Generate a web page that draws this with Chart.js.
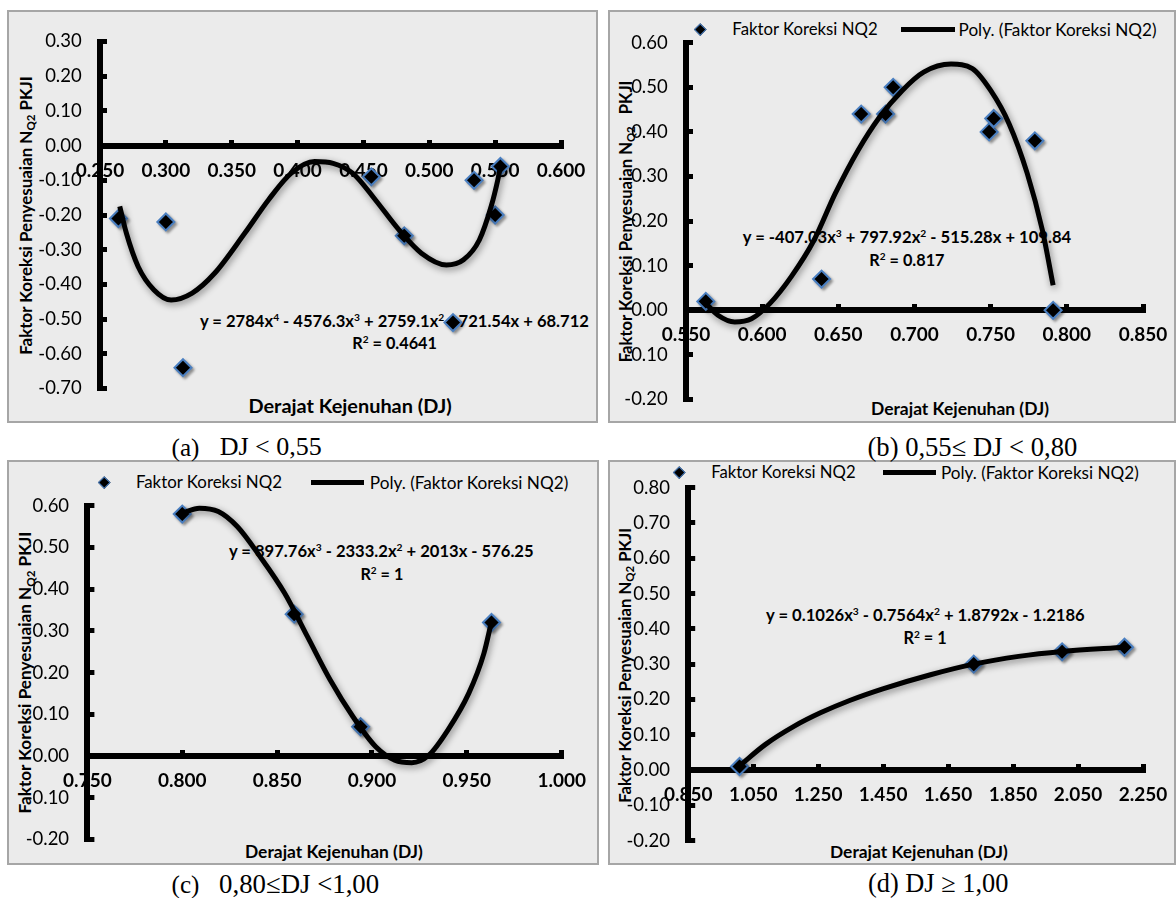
<!DOCTYPE html>
<html><head><meta charset="utf-8">
<script src="https://cdn.jsdelivr.net/npm/chart.js@4.4.1/dist/chart.umd.min.js"></script>
<style>
html,body{margin:0;padding:0;background:#fff;overflow:hidden}
#wrap{position:relative;width:1176px;height:898px;overflow:hidden}
.frame{position:absolute;box-sizing:border-box;border:2px solid #a6a6a6;background:#ebebeb;z-index:0}
.cv{position:absolute;z-index:2}
.t{position:absolute;white-space:pre;line-height:1;z-index:1;color:#000}
.sans{font-family:Lato,'Open Sans',sans-serif}
.serif{font-family:'Liberation Serif','Times New Roman',serif}
.t sup{font-size:0.62em;vertical-align:0.55em;line-height:0}
.t sub{font-size:0.68em;vertical-align:-0.28em;line-height:0}
.dia{position:absolute;box-sizing:border-box;background:#000;border:1.5px solid #4a7fc1;transform:rotate(45deg);z-index:3}
.lg{position:absolute;background:#000;z-index:3}
</style></head><body><div id="wrap"></div>
<script>
// ---------------- data ----------------
// (a) DJ < 0,55
const aX = [0.264, 0.300, 0.313, 0.456, 0.481, 0.518, 0.534, 0.550, 0.554];
const aY = [-0.21, -0.22, -0.64, -0.09, -0.26, -0.51, -0.10, -0.20, -0.06];
const aCurveX = [0.265, 0.270, 0.279, 0.291, 0.304, 0.320, 0.337, 0.360, 0.378, 0.395, 0.413, 0.427, 0.442, 0.459, 0.477, 0.494, 0.513, 0.526, 0.538, 0.547, 0.552, 0.554];
const aCurveY = [-0.175, -0.252, -0.349, -0.416, -0.445, -0.425, -0.368, -0.252, -0.156, -0.080, -0.046, -0.051, -0.080, -0.156, -0.243, -0.310, -0.344, -0.329, -0.272, -0.175, -0.099, -0.061];
const aXTicks = [0.25, 0.30, 0.35, 0.40, 0.45, 0.50, 0.55, 0.60];
const aYTicks = [-0.7, -0.6, -0.5, -0.4, -0.3, -0.2, -0.1, 0, 0.1, 0.2, 0.3];
// (b) 0,55 <= DJ < 0,80
const bX = [0.563, 0.639, 0.665, 0.681, 0.686, 0.749, 0.752, 0.779, 0.791];
const bY = [0.02, 0.07, 0.44, 0.44, 0.50, 0.40, 0.43, 0.38, 0.00];
const bCurveX = [0.562, 0.571, 0.582, 0.593, 0.605, 0.619, 0.634, 0.648, 0.663, 0.677, 0.692, 0.706, 0.724, 0.738, 0.750, 0.762, 0.774, 0.784, 0.791];
const bCurveY = [0.019, -0.011, -0.026, -0.019, 0.015, 0.075, 0.157, 0.262, 0.359, 0.433, 0.493, 0.534, 0.552, 0.542, 0.493, 0.419, 0.307, 0.179, 0.056];
const bXTicks = [0.55, 0.60, 0.65, 0.70, 0.75, 0.80, 0.85];
const bYTicks = [-0.2, -0.1, 0, 0.1, 0.2, 0.3, 0.4, 0.5, 0.6];
// (c) 0,80 <= DJ < 1,00
const cX = [0.800, 0.859, 0.894, 0.963];
const cY = [0.58, 0.34, 0.07, 0.32];
const cCurveX = [0.800, 0.809, 0.819, 0.829, 0.841, 0.854, 0.866, 0.878, 0.890, 0.902, 0.912, 0.921, 0.930, 0.940, 0.951, 0.959, 0.963];
const cCurveY = [0.582, 0.594, 0.586, 0.550, 0.478, 0.390, 0.286, 0.182, 0.094, 0.022, -0.010, -0.016, 0.002, 0.062, 0.150, 0.246, 0.322];
const cXTicks = [0.75, 0.80, 0.85, 0.90, 0.95, 1.00];
const cYTicks = [-0.2, -0.1, 0, 0.1, 0.2, 0.3, 0.4, 0.5, 0.6];
// (d) DJ >= 1,00
const dX = [1.008, 1.729, 2.001, 2.193];
const dY = [0.01, 0.30, 0.335, 0.348];
const dCurveX = [1.008, 1.087, 1.178, 1.257, 1.347, 1.449, 1.596, 1.729, 1.867, 2.001, 2.193];
const dCurveY = [0.012, 0.072, 0.125, 0.162, 0.197, 0.230, 0.270, 0.300, 0.322, 0.336, 0.348];
const dXTicks = [0.85, 1.05, 1.25, 1.45, 1.65, 1.85, 2.05, 2.25];
const dYTicks = [-0.2, -0.1, 0, 0.1, 0.2, 0.3, 0.4, 0.5, 0.6, 0.7, 0.8];

const seriesName = 'Faktor Koreksi NQ2';
const trendName = 'Poly. (Faktor Koreksi NQ2)';
const xTitle = 'Derajat Kejenuhan (DJ)';

// ---------------- helpers ----------------
const wrap = document.getElementById('wrap');
Chart.defaults.font.family = 'Lato';

function addText(html, o) {
  const el = document.createElement('div');
  el.className = 't ' + (o.serif ? 'serif' : 'sans');
  el.innerHTML = html;
  el.style.fontWeight = o.bold ? '700' : '400';
  el.style.fontSize = '20px';
  wrap.appendChild(el);
  const w0 = el.offsetWidth;
  el.style.fontSize = (20 * o.w / w0).toFixed(2) + 'px';
  const w = el.offsetWidth, h = el.offsetHeight;
  const cx = (o.cx !== undefined) ? o.cx : (o.x + o.w / 2);
  el.style.left = (cx - w / 2) + 'px';
  el.style.top = (o.cy - h / 2) + 'px';
  if (o.rot) el.style.transform = 'rotate(' + o.rot + 'deg)';
  return el;
}
function addFrame(l, t, w, h) {
  const f = document.createElement('div');
  f.className = 'frame';
  Object.assign(f.style, {left: l + 'px', top: t + 'px', width: w + 'px', height: h + 'px'});
  wrap.appendChild(f);
}
function addLegend(o) {
  const d = document.createElement('div');
  d.className = 'dia';
  const s = 8.5;
  Object.assign(d.style, {left: (o.dx - s / 2) + 'px', top: (o.cy - s / 2) + 'px', width: s + 'px', height: s + 'px'});
  wrap.appendChild(d);
  addText(seriesName, {x: o.t1a, w: o.t1b - o.t1a, cy: o.cy});
  const l = document.createElement('div');
  l.className = 'lg';
  Object.assign(l.style, {left: o.la + 'px', top: (o.cy - 2.5) + 'px', width: (o.lb - o.la) + 'px', height: '5px'});
  wrap.appendChild(l);
  addText(trendName, {x: o.t2a, w: o.t2b - o.t2a, cy: o.cy});
}

const shadowPlugin = {
  id: 'shadow',
  beforeDatasetDraw(chart, args) {
    const ctx = chart.ctx;
    ctx.save();
    if (args.meta.type === 'line') {
      ctx.shadowColor = 'rgba(0,0,0,0.45)'; ctx.shadowBlur = 7; ctx.shadowOffsetX = 1.5; ctx.shadowOffsetY = 2.5;
    } else {
      ctx.shadowColor = 'rgba(0,0,0,0.35)'; ctx.shadowBlur = 3; ctx.shadowOffsetX = 2; ctx.shadowOffsetY = 2;
    }
  },
  afterDatasetDraw(chart) { chart.ctx.restore(); }
};

function makeChart(o) {
  addFrame(o.left, o.top, o.w, o.h);
  const box = document.createElement('div');
  box.className = 'cv';
  Object.assign(box.style, {left: o.left + 'px', top: o.top + 'px', width: o.w + 'px', height: o.h + 'px'});
  const c = document.createElement('canvas');
  c.width = o.w; c.height = o.h;
  box.appendChild(c);
  wrap.appendChild(box);
  const xt = o.xt, yt = o.yt;
  new Chart(c, {
    type: 'scatter',
    data: {
      datasets: [
        {
          label: seriesName,
          data: o.px.map((x, i) => ({x: x, y: o.py[i]})),
          pointStyle: 'rectRot', pointRadius: 8.5, pointHoverRadius: 8.5,
          pointBackgroundColor: '#000', pointBorderColor: '#4a7fc1', pointBorderWidth: 2,
          order: 1, clip: false
        },
        {
          label: trendName, type: 'line',
          data: o.lx.map((x, i) => ({x: x, y: o.ly[i]})),
          borderColor: '#000', borderWidth: 5, pointRadius: 0, pointHoverRadius: 0,
          cubicInterpolationMode: 'monotone', fill: false, order: 0, clip: false,
          borderCapStyle: 'butt'
        }
      ]
    },
    options: {
      responsive: false, animation: false, events: [],
      layout: {padding: {left: 0, top: o.padT, right: o.padR, bottom: o.padB}},
      plugins: {legend: {display: false}, tooltip: {enabled: false}, title: {display: false}},
      scales: {
        x: {
          type: 'linear', position: {y: 0},
          min: xt[0], max: xt[xt.length - 1],
          afterBuildTicks: s => { s.ticks = xt.map(v => ({value: v})); },
          afterFit: s => { s.paddingLeft = 0; s.paddingRight = 0; s.paddingTop = 0; s.paddingBottom = 0; },
          ticks: {callback: v => v.toFixed(3), font: {family: 'Lato', size: 19, weight: 'bold'}, color: '#000', padding: 22.6, maxRotation: 0, autoSkip: false},
          grid: {drawOnChartArea: false, drawTicks: true, tickLength: -9, tickWidth: 5, tickColor: '#000', color: '#000'},
          border: {display: true, width: 6, color: '#000'}
        },
        y: {
          type: 'linear', position: 'left',
          min: yt[0], max: yt[yt.length - 1],
          afterBuildTicks: s => { s.ticks = yt.map(v => ({value: v})); },
          afterFit: s => { s.width = o.axL; s.paddingTop = 0; s.paddingBottom = 0; s.paddingLeft = 0; s.paddingRight = 0; },
          ticks: {callback: v => v.toFixed(2), font: {family: 'Lato', size: 18.5}, color: '#000', padding: 25.3, autoSkip: false},
          grid: {drawOnChartArea: false, drawTicks: true, tickLength: -7, tickWidth: 5, tickColor: '#000', color: '#000'},
          border: {display: true, width: 6, color: '#000'}
        }
      }
    },
    plugins: [shadowPlugin]
  });
}

// ---------------- panel (a) ----------------
makeChart({left: 7, top: 10, w: 591, h: 413, axL: 93, padT: 31.5, padR: 37, padB: 34.5,
  px: aX, py: aY, lx: aCurveX, ly: aCurveY, xt: aXTicks, yt: aYTicks});
addText('Faktor Koreksi Penyesuaian N<sub>Q2</sub> PKJI', {cx: 26.8, cy: 215.5, w: 279, bold: true, rot: -90});
addText(xTitle, {cx: 350, cy: 406, w: 203, bold: true});
addText('y = 2784x<sup>4</sup> - 4576.3x<sup>3</sup> + 2759.1x<sup>2</sup> - 721.54x + 68.712', {cx: 394.5, cy: 321.7, w: 389, bold: true});
addText('R<sup>2</sup> = 0.4641', {cx: 394.7, cy: 343, w: 84.7, bold: true});
addText('(a)', {x: 171.8, w: 27.6, cy: 447, serif: true});
addText('DJ &lt; 0,55', {x: 219.3, w: 102.8, cy: 447, serif: true});

// ---------------- panel (b) ----------------
makeChart({left: 608, top: 10, w: 568, h: 413, axL: 78, padT: 32.7, padR: 33, padB: 23.5,
  px: bX, py: bY, lx: bCurveX, ly: bCurveY, xt: bXTicks, yt: bYTicks});
addLegend({dx: 700, cy: 29.3, t1a: 732.3, t1b: 877.4, la: 900.5, lb: 954.5, t2a: 958.5, t2b: 1156.6});
addText('Faktor Koreksi Penyesuaian N<sub>Q2</sub>   PKJI', {cx: 625.7, cy: 221, w: 282, bold: true, rot: -90});
addText(xTitle, {cx: 960, cy: 408.3, w: 178, bold: true});
addText('y = -407.03x<sup>3</sup> + 797.92x<sup>2</sup> - 515.28x + 109.84', {cx: 906.8, cy: 237.3, w: 328.5, bold: true});
addText('R<sup>2</sup> = 0.817', {cx: 906.8, cy: 260, w: 75.6, bold: true});
addText('(b) 0,55≤ DJ &lt; 0,80', {x: 867.5, w: 210, cy: 447, serif: true});

// ---------------- panel (c) ----------------
makeChart({left: 7, top: 460, w: 592, h: 405, axL: 80.4, padT: 45.7, padR: 37.3, padB: 25.6,
  px: cX, py: cY, lx: cCurveX, ly: cCurveY, xt: cXTicks, yt: cYTicks});
addLegend({dx: 104.7, cy: 482.3, t1a: 136, t1b: 281.8, la: 311.3, lb: 364.3, t2a: 370, t2b: 568.6});
addText('Faktor Koreksi Penyesuaian N<sub>Q2</sub> PKJI', {cx: 25, cy: 672, w: 282, bold: true, rot: -90});
addText(xTitle, {cx: 334, cy: 851.7, w: 177.6, bold: true});
addText('y = 897.76x<sup>3</sup> - 2333.2x<sup>2</sup> + 2013x - 576.25', {cx: 381.5, cy: 551.7, w: 304.4, bold: true});
addText('R<sup>2</sup> = 1', {cx: 381.9, cy: 574.3, w: 43, bold: true});
addText('(c)', {x: 171.8, w: 27.6, cy: 884, serif: true});
addText('0,80≤DJ &lt;1,00', {x: 219.3, w: 159.5, cy: 884, serif: true});

// ---------------- panel (d) ----------------
makeChart({left: 608, top: 460, w: 568, h: 405, axL: 80.2, padT: 27.7, padR: 33, padB: 24.4,
  px: dX, py: dY, lx: dCurveX, ly: dCurveY, xt: dXTicks, yt: dYTicks});
addLegend({dx: 679, cy: 472.7, t1a: 711, t1b: 855.3, la: 882.9, lb: 936.2, t2a: 941, t2b: 1139});
addText('Faktor Koreksi Penyesuaian N<sub>Q2</sub> PKJI', {cx: 625.7, cy: 665.5, w: 275, bold: true, rot: -90});
addText(xTitle, {cx: 919, cy: 851.7, w: 177.5, bold: true});
addText('y = 0.1026x<sup>3</sup> - 0.7564x<sup>2</sup> + 1.8792x - 1.2186', {cx: 925.5, cy: 615.7, w: 319, bold: true});
addText('R<sup>2</sup> = 1', {cx: 925, cy: 638.3, w: 43.3, bold: true});
addText('(d) DJ ≥ 1,00', {x: 867.5, w: 141, cy: 884, serif: true});
</script>
</body></html>
